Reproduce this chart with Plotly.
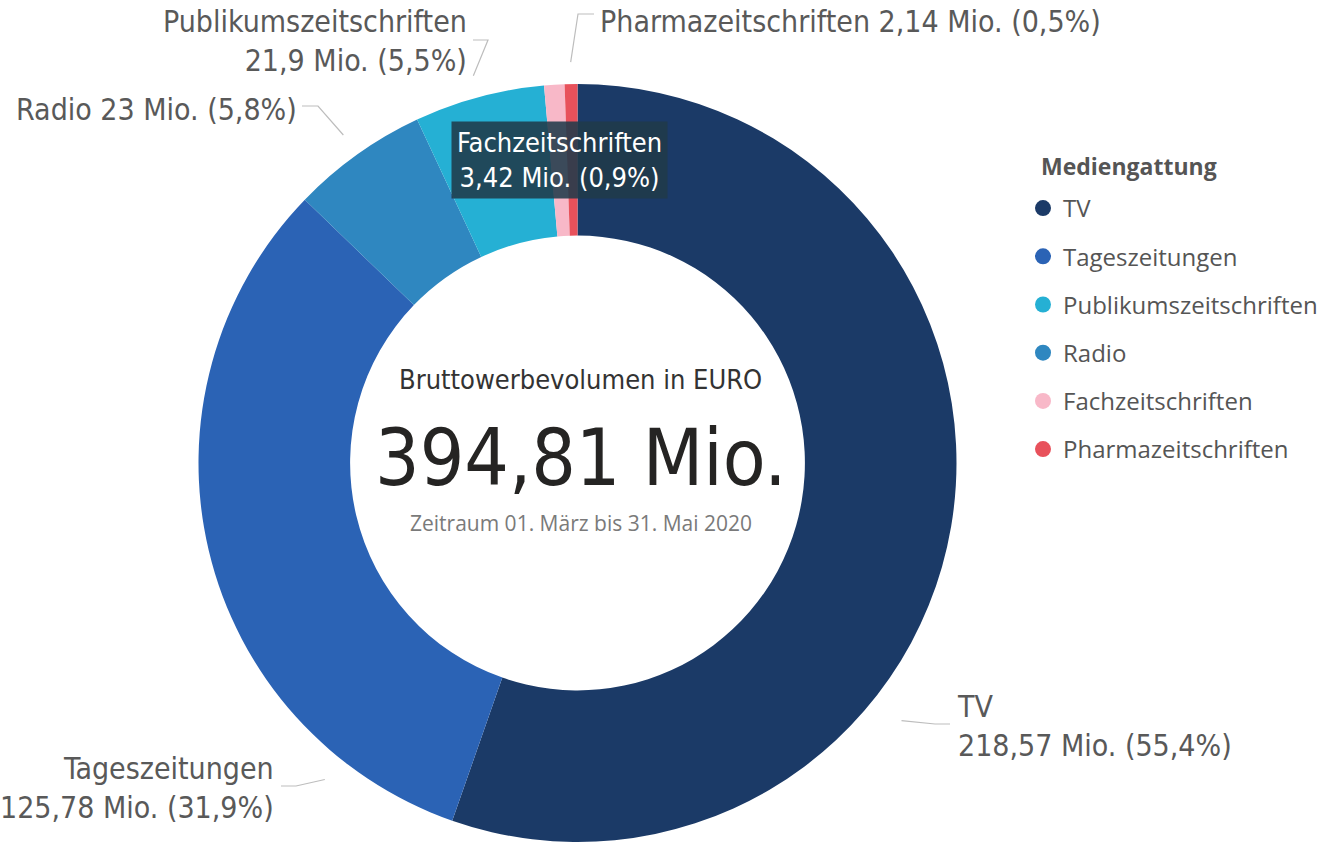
import math
import plotly.graph_objects as go

# ---------------- data ----------------
categories = ["TV", "Tageszeitungen", "Radio", "Publikumszeitschriften",
              "Fachzeitschriften", "Pharmazeitschriften"]
values_mio = [218.57, 125.78, 23, 21.9, 3.42, 2.14]
colors = ["#1b3a67", "#2b63b5", "#2f87c0", "#25b0d4", "#f8b8c8", "#e8515b"]
legend_order = ["TV", "Tageszeitungen", "Publikumszeitschriften", "Radio",
                "Fachzeitschriften", "Pharmazeitschriften"]
center_title = "Bruttowerbevolumen in EURO"
center_sub = "Zeitraum 01. März bis 31. Mai 2020"
legend_title = "Mediengattung"

# ---------------- geometry / style ----------------
W, H = 1334, 842
CX, CY, R = 577.5, 463, 379       # pie centre and outer radius in px
HOLE = 0.6
LABEL_FONT = "DejaVu Sans Condensed, Roboto, sans-serif"
UI_FONT = "Open Sans, Noto Sans, sans-serif"
LABEL_COLOR = "#595959"
LEADER_COLOR = "#bdbdbd"


def px(x, y):
    return x / W, 1 - y / H


def de(v):
    return f"{v:g}".replace(".", ",")


total = sum(values_mio)
pct = [v / total * 100 for v in values_mio]

fig = go.Figure()
fig.add_trace(go.Pie(
    labels=categories, values=values_mio, marker=dict(colors=colors, line=dict(width=0)),
    hole=HOLE, sort=False, direction="clockwise", rotation=0,
    textinfo="none", hoverinfo="label+value+percent", showlegend=False,
    domain=dict(x=[(CX - R) / W, (CX + R) / W], y=[1 - (CY + R) / H, 1 - (CY - R) / H]),
))

# legend via marker-only traces in Power BI order
cmap = dict(zip(categories, colors))
for name in legend_order:
    fig.add_trace(go.Scatter(
        x=[None], y=[None], mode="markers", name=name, legendgroup=name,
        marker=dict(color=cmap[name], size=18, symbol="circle"),
    ))

# slice mid angles (clockwise from 12 o'clock)
cum = 0
mid = {}
for c, v in zip(categories, values_mio):
    mid[c] = (cum + v / 2) / total * 360
    cum += v

# label layout: text anchor (px), xanchor, leader anchor angle, leader path
label_style = {
    "TV": dict(x=955, y=726, xa="left", ang=128.5, rr=35, elbow=(935, 724), end=(950, 724), two=True),
    "Tageszeitungen": dict(x=276, y=788, xa="right", ang=218.6, rr=26, elbow=(296, 786), end=(281, 786), two=True),
    "Radio": dict(x=299, y=110, xa="right", ang=None, rr=24, elbow=(318, 106), end=(302, 106), two=False),
    "Publikumszeitschriften": dict(x=469, y=41, xa="right", ang=None, rr=22, elbow=(488, 40), end=(473, 40), two=True),
    "Pharmazeitschriften": dict(x=598, y=22, xa="left", ang=None, rr=22, elbow=(578, 14), end=(594, 14), two=False),
}

annotations = []
shapes = []
for c, v, p in zip(categories, values_mio, pct):
    if c not in label_style:
        continue
    st = label_style[c]
    sep = "<br>" if st["two"] else " "
    txt = f"{c}{sep}{de(v)} Mio. ({de(round(p, 1))}%)"
    x, y = px(st["x"], st["y"])
    annotations.append(dict(
        text=txt, x=x, y=y, xref="paper", yref="paper", xanchor=st["xa"], yanchor="middle",
        align=st["xa"], showarrow=False,
        font=dict(family=LABEL_FONT, size=30, color=LABEL_COLOR),
    ))
    ang = math.radians(st["ang"] if st["ang"] is not None else mid[c])
    sx = CX + (R + st["rr"]) * math.sin(ang)
    sy = CY - (R + st["rr"]) * math.cos(ang)
    pts = [(sx, sy), st["elbow"], st["end"]]
    path = "M " + " L ".join(f"{px(a, b)[0]},{px(a, b)[1]}" for a, b in pts)
    shapes.append(dict(type="path", path=path, xref="paper", yref="paper",
                       line=dict(color=LEADER_COLOR, width=1.2)))

# tooltip-like box for Fachzeitschriften
fi = categories.index("Fachzeitschriften")
bx, by = px(559, 160)
annotations.append(dict(
    text=f"{categories[fi]}<br>{de(values_mio[fi])} Mio. ({de(round(pct[fi], 1))}%)",
    x=bx, y=by, xref="paper", yref="paper", xanchor="center", yanchor="middle",
    showarrow=False, bgcolor="rgba(32,58,74,0.88)", borderpad=5,
    font=dict(family=LABEL_FONT, size=27, color="white"),
))

# centre texts
for text, yy, size, color, fam in [
    (center_title, 379, 27, "#333333", LABEL_FONT),
    (f"{de(round(total, 2))} Mio.", 458, 78, "#252423", LABEL_FONT),
    (center_sub, 523, 21, "#7a7a7a", UI_FONT),
]:
    x, y = px(CX + 3, yy)
    annotations.append(dict(text=text, x=x, y=y, xref="paper", yref="paper",
                            xanchor="center", yanchor="middle", showarrow=False,
                            font=dict(family=fam, size=size, color=color)))

# legend title
tx, ty = px(1039, 166)
annotations.append(dict(text=f"<b>{legend_title}</b>", x=tx, y=ty, xref="paper", yref="paper",
                        xanchor="left", yanchor="middle", showarrow=False,
                        font=dict(family=UI_FONT, size=23, color="#555555")))

lx, ly = px(1023, 186)
fig.update_layout(
    width=W, height=H, margin=dict(l=0, r=0, t=0, b=0),
    paper_bgcolor="white", plot_bgcolor="white",
    xaxis=dict(visible=False), yaxis=dict(visible=False),
    annotations=annotations, shapes=shapes,
    legend=dict(
        x=lx, y=ly, xanchor="left", yanchor="top",
        font=dict(family=UI_FONT, size=24, color="#555555"),
        itemwidth=30, tracegroupgap=14, bgcolor="rgba(0,0,0,0)",
    ),
)

fig.write_html("out.html", config={"displayModeBar": False},
               post_script="document.body.style.margin='0';")
